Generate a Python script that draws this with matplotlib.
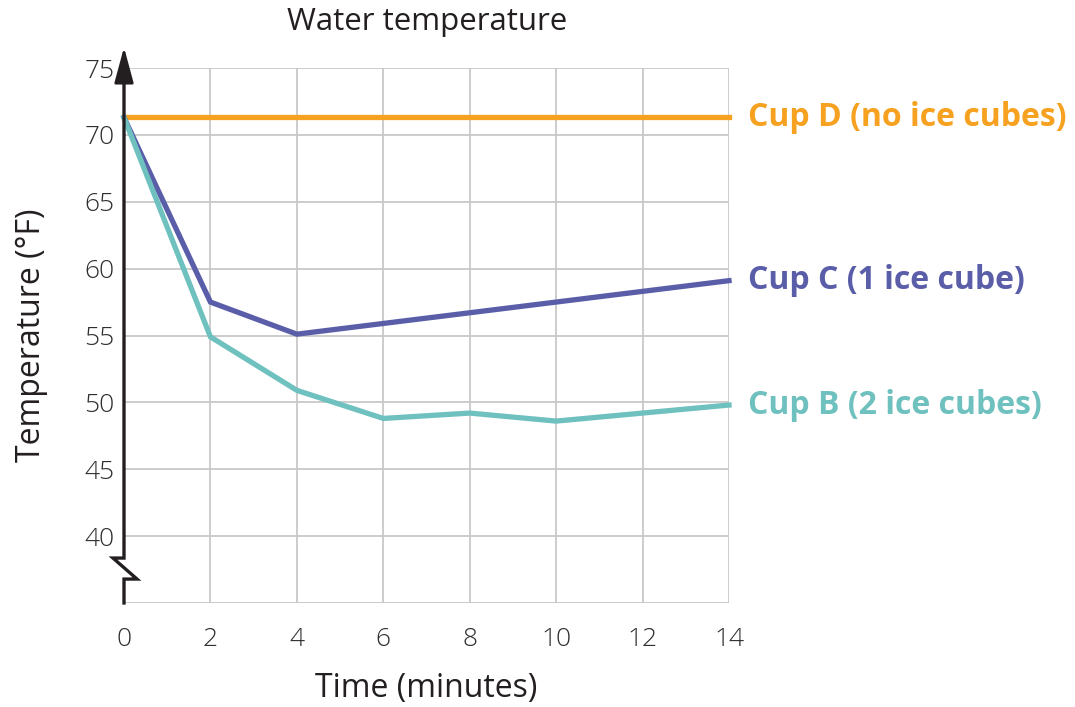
import matplotlib.pyplot as plt

plt.rcParams['font.family'] = ['Open Sans', 'DejaVu Sans']

# data
minutes = [0, 2, 4, 6, 8, 10, 12, 14]
cup_d = [71.3, 71.3, 71.3, 71.3, 71.3, 71.3, 71.3, 71.3]
cup_c = [71.3, 57.5, 55.1, 55.9, 56.7, 57.5, 58.3, 59.1]
cup_b = [71.3, 54.9, 50.9, 48.8, 49.2, 48.6, 49.2, 49.8]
series_names = ["Cup D (no ice cubes)", "Cup C (1 ice cube)", "Cup B (2 ice cubes)"]
series_colors = ["#F6A11F", "#5A5DA8", "#6EC1BE"]
x_ticks = [0, 2, 4, 6, 8, 10, 12, 14]
y_ticks = [40, 45, 50, 55, 60, 65, 70, 75]

W, H = 1075, 707
fig = plt.figure(figsize=(W / 100, H / 100), dpi=100)
ax = fig.add_axes([124 / W, (H - 603) / H, 605 / W, 535 / H])

ax.set_xlim(0, 14)
ax.set_ylim(35, 75)

# grid
grid_c = "#c8c8c8"
for x in x_ticks[1:]:
    ax.axvline(x, color=grid_c, lw=1.3, zorder=1)
for y in [35] + y_ticks:
    ax.axhline(y, color=grid_c, lw=1.3, zorder=1)

for s in ax.spines.values():
    s.set_visible(False)

for vals, name, col in zip([cup_d, cup_c, cup_b], series_names, series_colors):
    ax.plot(minutes, vals, color=col, lw=3.8, solid_joinstyle="miter", zorder=3, clip_on=False)
    ax.annotate(name, xy=(minutes[-1], vals[-1]), xytext=(19, 0), textcoords="offset pixels",
                color=col, fontsize=23, fontweight="bold", va="center", ha="left",
                annotation_clip=False)

# y axis with break (zigzag offsets in pixels) and arrow
axis_c = "#231f20"
zig = [(0, 35), (0, 36.79), (13, 36.79), (-11, 38.36), (0, 38.36), (0, 75)]
pts = []
for dx, yv in zig:
    disp = ax.transData.transform((0, yv))
    pts.append(ax.transData.inverted().transform((disp[0] + dx, disp[1])))
ax.plot([p[0] for p in pts], [p[1] for p in pts], color=axis_c, lw=2.4,
        solid_joinstyle="miter", clip_on=False, zorder=4)
ax.annotate("", xy=(0, 76.55), xytext=(0, 74.0),
            arrowprops=dict(arrowstyle="-|>,head_length=1.0,head_width=0.27", color=axis_c,
                            lw=2.0, shrinkA=0, shrinkB=0, mutation_scale=22),
            annotation_clip=False, zorder=4)

ax.set_xticks(x_ticks)
ax.set_yticks(y_ticks)
ax.tick_params(length=0, labelsize=19, labelcolor="#2e2e2e")
ax.tick_params(axis="x", pad=17)
ax.tick_params(axis="y", pad=7)
for lab in ax.get_xticklabels() + ax.get_yticklabels():
    lab.set_fontweight("light")

ax.set_xlabel("Time (minutes)", fontsize=23, color="#231f20", labelpad=15)
ax.set_ylabel("Temperature (°F)", fontsize=23, color="#231f20", labelpad=26)
fig.text(427 / W, 1 - 22 / H, "Water temperature", fontsize=22.5, color="#231f20",
         ha="center", va="center")

fig.savefig("out.png", dpi=100)
